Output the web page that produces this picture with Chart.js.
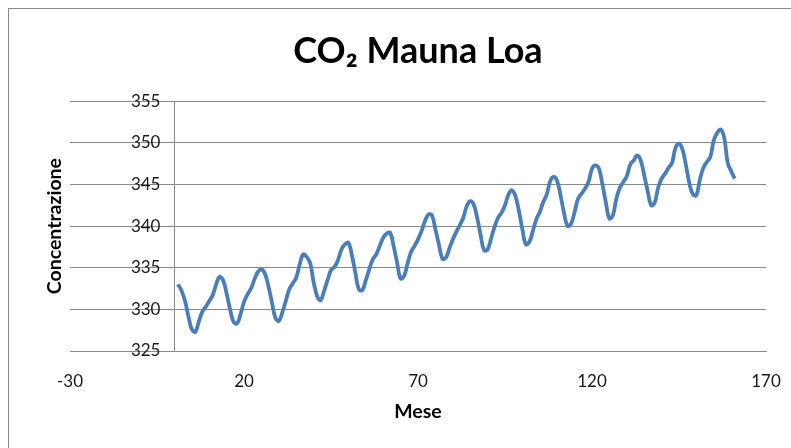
<!DOCTYPE html>
<html><head><meta charset="utf-8">
<script src="https://cdn.jsdelivr.net/npm/chart.js@4/dist/chart.umd.min.js"></script>
<style>
html,body{margin:0;padding:0;background:#fff;}
#wrap{position:relative;width:791px;height:448px;overflow:hidden;background:#fff;}
#frame{position:absolute;left:8px;top:8px;width:800px;height:460px;border:1px solid #8a8a8a;pointer-events:none;}
</style></head><body>
<div id="wrap"><canvas id="c" width="791" height="448"></canvas><div id="frame"></div></div>
<script>
// CO2 concentration, month 1 .. 161
const co2 = [
  333.0, 332.3, 331.1, 329.2, 327.6, 327.3, 328.5, 329.7,
  330.3, 331.0, 331.7, 333.0, 333.9, 333.5, 331.9, 330.0, 328.5, 328.3, 329.4, 330.9,
  331.8, 332.5, 333.6, 334.5, 334.8, 334.3, 332.8, 330.9, 329.0, 328.6, 329.6, 331.0,
  332.4, 333.1, 333.8, 335.4, 336.6, 336.3, 335.6, 333.3, 331.6, 331.1, 332.2, 333.5,
  334.7, 335.1, 335.9, 337.2, 337.8, 338.0, 336.5, 334.4, 332.4, 332.3, 333.5, 334.8,
  336.0, 336.6, 337.6, 338.6, 339.1, 339.2, 337.6, 335.6, 333.7, 334.0, 335.5, 336.9,
  337.6, 338.4, 339.4, 340.6, 341.4, 341.3, 339.6, 337.8, 336.1, 336.2, 337.3, 338.4,
  339.3, 340.1, 341.0, 342.4, 343.0, 342.6, 341.0, 338.9, 337.1, 337.2, 338.5, 339.9,
  341.0, 341.6, 342.5, 343.8, 344.3, 343.6, 341.8, 339.6, 337.8, 338.1, 339.4, 340.8,
  341.7, 342.9, 343.8, 345.4, 345.9, 345.4, 343.6, 341.5, 340.0, 340.3, 341.7, 343.3,
  343.9, 344.5, 345.3, 346.9, 347.3, 346.9, 345.0, 342.8, 340.9, 341.3, 343.3, 344.6,
  345.3, 346.0, 347.4, 347.9, 348.5, 347.9, 346.1, 344.2, 342.5, 342.8, 344.6, 345.7,
  346.3, 347.0, 347.6, 349.4, 349.9, 349.2, 347.3, 345.1, 343.8, 343.7, 345.6, 347.0,
  347.7, 348.3, 350.3, 351.2, 351.6, 350.6, 347.6, 346.6, 345.7
];
const months = co2.map((v, i) => i + 1);
const xTicks = [-30, 20, 70, 120, 170];
const yTicks = [325, 330, 335, 340, 345, 350, 355];

const gridGray = '#8a8a8a';
const tickFont = {family: 'Lato', size: 17};
const axisTitleFont = {family: 'Lato', size: 19.5, weight: 'bold'};

new Chart(document.getElementById('c'), {
  type: 'scatter',
  data: {
    datasets: [{
      data: months.map((m, i) => ({x: m, y: co2[i]})),
      showLine: true,
      borderColor: '#4a7ebb',
      borderWidth: 3.8,
      pointRadius: 0,
      tension: 0.4,
      fill: false,
      yAxisID: 'y'
    }]
  },
  options: {
    responsive: false,
    animation: false,
    devicePixelRatio: 1,
    layout: {padding: {left: 0, right: 25, top: 0, bottom: 0}},
    plugins: {
      legend: {display: false},
      tooltip: {enabled: false},
      title: {
        display: true,
        fullSize: false,
        text: 'CO₂ Mauna Loa',
        color: '#000',
        font: {family: 'Lato', size: 36, weight: 'bold'},
        padding: {top: 30, bottom: 28}
      }
    },
    scales: {
      x: {
        type: 'linear',
        position: 'bottom',
        min: xTicks[0],
        max: xTicks[xTicks.length - 1],
        ticks: {stepSize: xTicks[1] - xTicks[0], color: '#1a1a1a', font: tickFont, padding: 20, maxRotation: 0},
        grid: {display: false, drawTicks: false},
        border: {display: true, color: gridGray, width: 1},
        title: {display: true, text: 'Mese', color: '#000', font: axisTitleFont, padding: {top: 0, bottom: 25}},
        afterFit(s) { s.height = 97; s.paddingRight = 0; s.paddingLeft = 0; }
      },
      // tick labels + horizontal gridlines (labels sit just left of the vertical axis)
      y: {
        type: 'linear',
        position: {x: -4},
        min: yTicks[0],
        max: yTicks[yTicks.length - 1],
        ticks: {stepSize: yTicks[1] - yTicks[0], color: '#1a1a1a', font: tickFont},
        grid: {color: gridGray, lineWidth: 1, drawTicks: false},
        border: {display: false},
        afterFit(s) { s.width = 0; }
      },
      // the vertical axis line crossing at x = 0
      y0: {
        type: 'linear',
        position: {x: 0},
        min: yTicks[0],
        max: yTicks[yTicks.length - 1],
        ticks: {display: false},
        grid: {display: false, drawTicks: false},
        border: {display: true, color: gridGray, width: 1},
        afterFit(s) { s.width = 0; }
      },
      yt: {
        type: 'linear',
        position: 'left',
        min: yTicks[0],
        max: yTicks[yTicks.length - 1],
        ticks: {display: false},
        grid: {display: false, drawTicks: false},
        border: {display: false},
        title: {display: true, text: 'Concentrazione', color: '#000', font: axisTitleFont, padding: {top: 43, bottom: 0}},
        afterFit(s) { s.width = 70; }
      }
    }
  }
});
</script>
</body></html>
